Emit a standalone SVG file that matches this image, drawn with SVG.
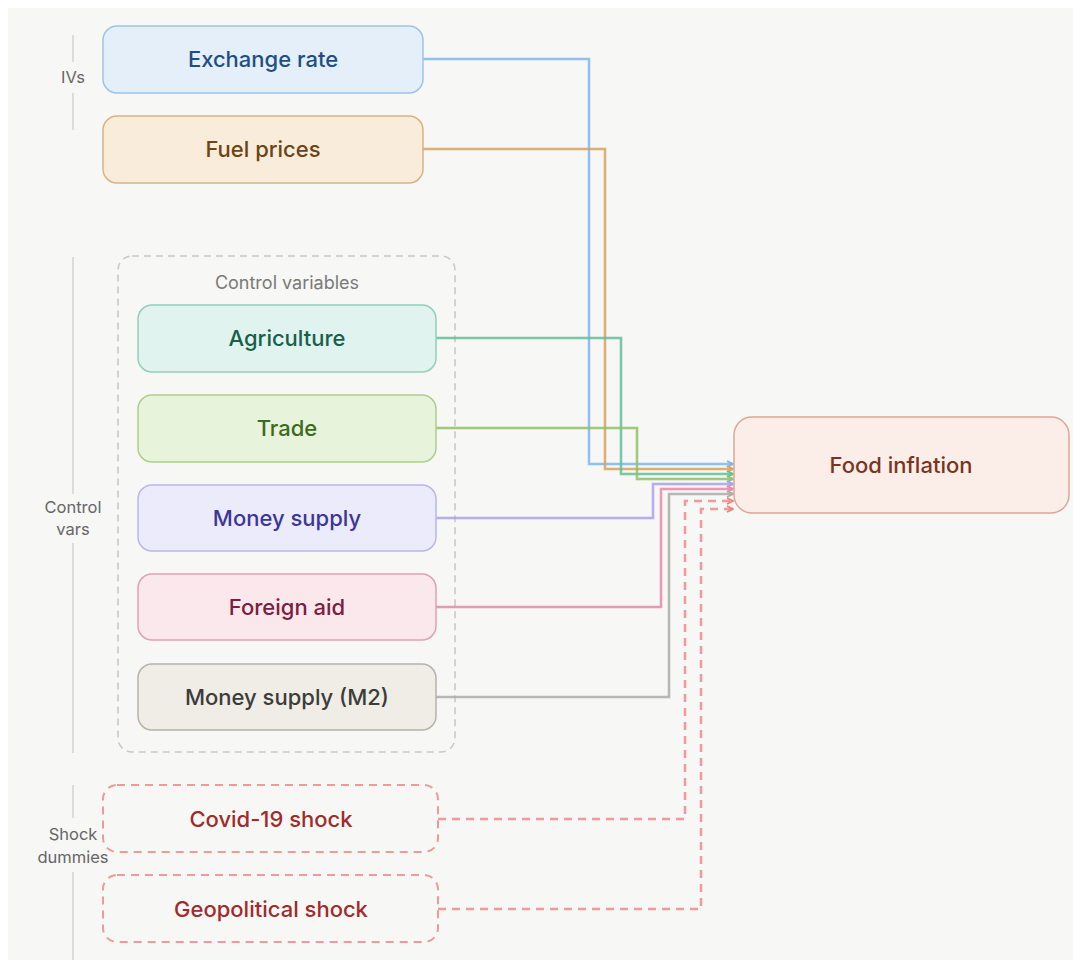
<svg xmlns="http://www.w3.org/2000/svg" width="1073" height="960" viewBox="0 0 1073 960">
<style>
.lbl{font-family:Inter,"Noto Sans","Liberation Sans",sans-serif;font-weight:500;font-size:22px;text-anchor:middle;dominant-baseline:central}
.side{font-family:Inter,"Noto Sans","Liberation Sans",sans-serif;font-size:16.5px;fill:#666;text-anchor:middle;dominant-baseline:central}
.grp{font-family:Inter,"Noto Sans","Liberation Sans",sans-serif;font-size:18px;fill:#7a7a78;text-anchor:middle;dominant-baseline:central}
.guide{stroke:#dcdcda;stroke-width:2;fill:none}
.edge{fill:none;stroke-width:2.5;stroke-opacity:0.85}
.dash{stroke-dasharray:8 6}
</style>
<defs>
<marker id="aBlue" viewBox="0 0 8 8" refX="7" refY="4" markerWidth="8" markerHeight="8" markerUnits="userSpaceOnUse" orient="auto"><path d="M1,1 L7,4 L1,7" fill="none" stroke="#7fb6ec" stroke-width="1.8"/></marker>
<marker id="aOrange" viewBox="0 0 8 8" refX="7" refY="4" markerWidth="8" markerHeight="8" markerUnits="userSpaceOnUse" orient="auto"><path d="M1,1 L7,4 L1,7" fill="none" stroke="#d6a25e" stroke-width="1.8"/></marker>
<marker id="aGreen" viewBox="0 0 8 8" refX="7" refY="4" markerWidth="8" markerHeight="8" markerUnits="userSpaceOnUse" orient="auto"><path d="M1,1 L7,4 L1,7" fill="none" stroke="#5fbf98" stroke-width="1.8"/></marker>
<marker id="aLime" viewBox="0 0 8 8" refX="7" refY="4" markerWidth="8" markerHeight="8" markerUnits="userSpaceOnUse" orient="auto"><path d="M1,1 L7,4 L1,7" fill="none" stroke="#8dc265" stroke-width="1.8"/></marker>
<marker id="aPurple" viewBox="0 0 8 8" refX="7" refY="4" markerWidth="8" markerHeight="8" markerUnits="userSpaceOnUse" orient="auto"><path d="M1,1 L7,4 L1,7" fill="none" stroke="#a99ff0" stroke-width="1.8"/></marker>
<marker id="aPink" viewBox="0 0 8 8" refX="7" refY="4" markerWidth="8" markerHeight="8" markerUnits="userSpaceOnUse" orient="auto"><path d="M1,1 L7,4 L1,7" fill="none" stroke="#e58aa8" stroke-width="1.8"/></marker>
<marker id="aGray" viewBox="0 0 8 8" refX="7" refY="4" markerWidth="8" markerHeight="8" markerUnits="userSpaceOnUse" orient="auto"><path d="M1,1 L7,4 L1,7" fill="none" stroke="#ababa7" stroke-width="1.8"/></marker>
<marker id="aRed" viewBox="0 0 8 8" refX="7" refY="4" markerWidth="8" markerHeight="8" markerUnits="userSpaceOnUse" orient="auto"><path d="M1,1 L7,4 L1,7" fill="none" stroke="#ee7f7f" stroke-width="1.8"/></marker>
</defs>
<rect x="0" y="0" width="1073" height="960" fill="#ffffff"/>
<rect x="8" y="8" width="1065" height="952" fill="#f7f7f5"/>

<g id="side-labels">
<line class="guide" x1="73" y1="35" x2="73" y2="62"/>
<text class="side" x="73" y="77">IVs</text>
<line class="guide" x1="73" y1="93" x2="73" y2="130"/>
<line class="guide" x1="73" y1="257" x2="73" y2="494"/>
<text class="side" x="73" y="507">Control</text>
<text class="side" x="73" y="529">vars</text>
<line class="guide" x1="73" y1="543" x2="73" y2="753"/>
<line class="guide" x1="73" y1="785" x2="73" y2="818"/>
<text class="side" x="73" y="834">Shock</text>
<text class="side" x="73" y="857">dummies</text>
<line class="guide" x1="73" y1="872" x2="73" y2="960"/>
</g>

<g id="control-group">
<rect x="118" y="256" width="337" height="496" rx="14" fill="none" stroke="#c9c9c7" stroke-width="1.6" stroke-dasharray="7 5"/>
<text class="grp" x="287" y="282">Control variables</text>
</g>

<g id="connectors">
<path class="edge" stroke="#7fb6ec" d="M423,59 H589 V464 H733" marker-end="url(#aBlue)"/>
<path class="edge" stroke="#d6a25e" d="M423,149 H605 V469 H733" marker-end="url(#aOrange)"/>
<path class="edge" stroke="#5fbf98" d="M436,338 H621 V474 H733" marker-end="url(#aGreen)"/>
<path class="edge" stroke="#8dc265" d="M436,428 H637 V479 H733" marker-end="url(#aLime)"/>
<path class="edge" stroke="#a99ff0" d="M436,518 H653 V484 H733" marker-end="url(#aPurple)"/>
<path class="edge" stroke="#e58aa8" d="M436,607 H661 V489 H733" marker-end="url(#aPink)"/>
<path class="edge" stroke="#ababa7" d="M436,697 H669 V494 H733" marker-end="url(#aGray)"/>
<path class="edge dash" stroke="#ee8a8a" d="M438,819 H685 V501 H733" marker-end="url(#aRed)"/>
<path class="edge dash" stroke="#ee8a8a" d="M438,909 H701 V509 H733" marker-end="url(#aRed)"/>
</g>

<g id="exchange-rate">
<rect x="103" y="26" width="320" height="67" rx="14" fill="#e4effa" stroke="#9ec3ea" stroke-width="1.5"/>
<text class="lbl" x="263" y="59" fill="#1f4e85">Exchange rate</text>
</g>
<g id="fuel-prices">
<rect x="103" y="116" width="320" height="67" rx="14" fill="#faecda" stroke="#dcb283" stroke-width="1.5"/>
<text class="lbl" x="263" y="149" fill="#6b4515">Fuel prices</text>
</g>
<g id="agriculture">
<rect x="138" y="305" width="298" height="67" rx="14" fill="#e0f3ee" stroke="#93cfb9" stroke-width="1.5"/>
<text class="lbl" x="287" y="338" fill="#17604a">Agriculture</text>
</g>
<g id="trade">
<rect x="138" y="395" width="298" height="67" rx="14" fill="#e8f3dc" stroke="#abd08e" stroke-width="1.5"/>
<text class="lbl" x="287" y="428" fill="#3d6b1e">Trade</text>
</g>
<g id="money-supply">
<rect x="138" y="485" width="298" height="66" rx="14" fill="#ecebfb" stroke="#bcb5ee" stroke-width="1.5"/>
<text class="lbl" x="287" y="518" fill="#3c3699">Money supply</text>
</g>
<g id="foreign-aid">
<rect x="138" y="574" width="298" height="66" rx="14" fill="#fbe8ed" stroke="#dfa2b5" stroke-width="1.5"/>
<text class="lbl" x="287" y="607" fill="#7a2040">Foreign aid</text>
</g>
<g id="money-supply-m2">
<rect x="138" y="664" width="298" height="66" rx="14" fill="#efede6" stroke="#b5b3ab" stroke-width="1.5"/>
<text class="lbl" x="287" y="697" fill="#3c3c3a">Money supply (M2)</text>
</g>
<g id="covid-shock">
<rect x="103" y="785" width="335" height="67" rx="14" fill="none" stroke="#ee9a9a" stroke-width="2" stroke-dasharray="8 6"/>
<text class="lbl" x="271" y="819" fill="#a12b2b">Covid-19 shock</text>
</g>
<g id="geopolitical-shock">
<rect x="103" y="875" width="335" height="67" rx="14" fill="none" stroke="#ee9a9a" stroke-width="2" stroke-dasharray="8 6"/>
<text class="lbl" x="271" y="909" fill="#a12b2b">Geopolitical shock</text>
</g>
<g id="food-inflation">
<rect x="734" y="417" width="335" height="96" rx="18" fill="#fbede8" stroke="#dca898" stroke-width="1.5"/>
<text class="lbl" x="901" y="465" fill="#7a3520">Food inflation</text>
</g>
</svg>
